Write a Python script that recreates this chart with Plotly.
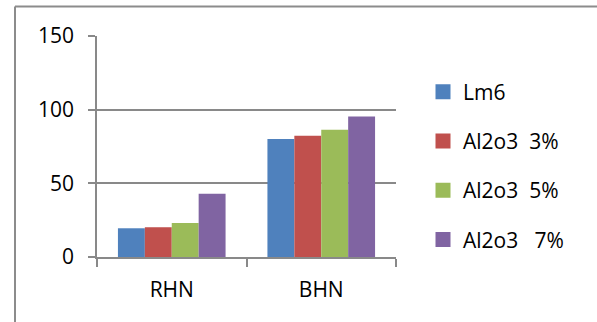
import plotly.graph_objects as go

categories = ["RHN", "BHN"]
series_names = ["Lm6", "Al2o3  3%", "Al2o3  5%", "Al2o3   7%"]
lm6 = [19.5, 80.1]
al3 = [20.2, 82.3]
al5 = [23.1, 86.4]
al7 = [42.9, 95.4]
colors = ["#4F81BD", "#C0504D", "#9BBB59", "#8064A2"]
y_ticks = [0, 50, 100, 150]

FONT = "Open Sans"
FS = 21
GRID = "#898989"

fig = go.Figure()
for name, vals, col in zip(series_names, [lm6, al3, al5, al7], colors):
    fig.add_trace(go.Bar(
        x=categories, y=vals, name=name, legendgroup=name, showlegend=False,
        marker=dict(color=col, line=dict(width=0)),
    ))
# legend-only entries with larger square swatches
for name, col in zip(series_names, colors):
    fig.add_trace(go.Scatter(
        x=[None], y=[None], mode="markers", name=name, legendgroup=name,
        marker=dict(symbol="square", size=15, color=col),
        hoverinfo="skip",
    ))

W, H = 597, 322
L, R, T, B = 97, 396, 36, 257
pw, ph = R - L, B - T

def px_x(x):
    return (x - L) / pw

def px_y(y):
    return (B - y) / ph

fig.update_layout(
    width=W, height=H,
    margin=dict(l=L, r=W - R, t=T, b=H - B),
    paper_bgcolor="white", plot_bgcolor="white",
    barmode="group", bargap=0.28, bargroupgap=0,
    font=dict(family=FONT, size=FS, color="black"),
    showlegend=True,
    legend=dict(
        x=px_x(423), xanchor="left",
        y=px_y(166), yanchor="middle",
        font=dict(family=FONT, size=FS, color="black"),
        tracegroupgap=19,
        bgcolor="rgba(0,0,0,0)",
    ),
    xaxis=dict(
        type="category", showgrid=False,
        showline=True, linecolor=GRID, linewidth=1.5,
        ticks="outside", tickson="boundaries", ticklen=8,
        tickcolor=GRID, tickwidth=1.5,
        tickfont=dict(family=FONT, size=FS, color="black"),
        ticklabelstandoff=13,
    ),
    yaxis=dict(
        range=[0, 150], tickvals=y_ticks,
        showgrid=True, gridcolor=GRID, gridwidth=1.5,
        showline=True, linecolor=GRID, linewidth=1.5,
        ticks="outside", ticklen=7, tickcolor=GRID, tickwidth=1.5,
        tickfont=dict(family=FONT, size=FS, color="black"),
        zeroline=False,
        ticklabelstandoff=10,
    ),
    shapes=[
        dict(type="line", xref="paper", yref="paper",
             x0=px_x(15), x1=px_x(600), y0=px_y(6.5), y1=px_y(6.5),
             line=dict(color="#8c8c8c", width=2)),
        dict(type="line", xref="paper", yref="paper",
             x0=px_x(15), x1=px_x(15), y0=px_y(6.5), y1=px_y(330),
             line=dict(color="#8c8c8c", width=2)),
    ],
)

fig.write_html(
    "out.html",
    config={"displayModeBar": False},
    post_script="document.body.style.margin='0px';document.body.style.overflow='hidden';",
)
